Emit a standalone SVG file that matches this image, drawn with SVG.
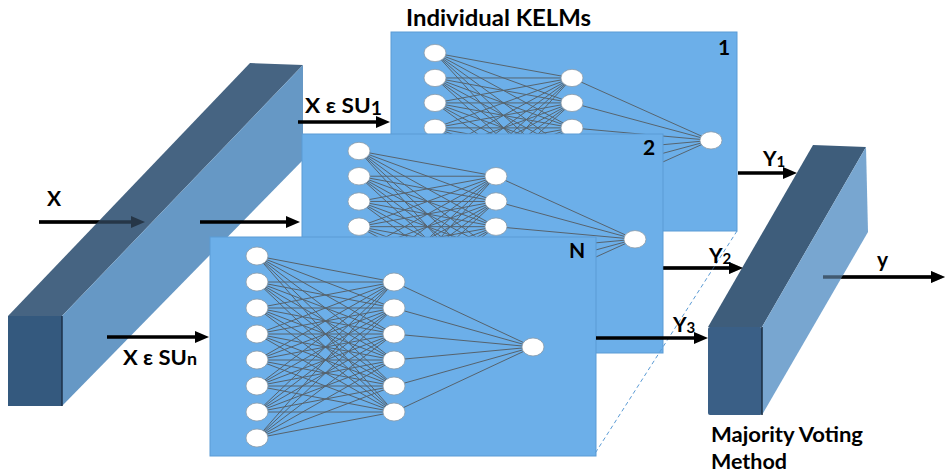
<svg xmlns="http://www.w3.org/2000/svg" xmlns:xlink="http://www.w3.org/1999/xlink" width="948" height="476" viewBox="0 0 948 476">
<style>
.lbl{font-family:Lato,"Open Sans","Liberation Sans",sans-serif;font-weight:bold;fill:#000}
.panel{fill:#6cafe9;stroke:#5b9bd5;stroke-width:1}
.arr{stroke:#000;stroke-width:3.5;fill:none;marker-end:url(#ah)}
.nl{stroke:#56626c;stroke-width:1;fill:none}
.nd{fill:#fff;stroke:#8a9aa8;stroke-width:0.8}
</style>
<defs>
<marker id="ah" viewBox="0 0 14 12" refX="4" refY="6" markerWidth="14" markerHeight="12" markerUnits="userSpaceOnUse" orient="auto">
<path d="M0 0L14 6L0 12z" fill="#000"/>
</marker>
<g id="net">
<path class="nl" d="M0 0L137 26M0 0L137 52M0 0L137 78M0 0L137 104M0 0L137 130M0 0L137 156
M0 26L137 26M0 26L137 52M0 26L137 78M0 26L137 104M0 26L137 130M0 26L137 156
M0 52L137 26M0 52L137 52M0 52L137 78M0 52L137 104M0 52L137 130M0 52L137 156
M0 78L137 26M0 78L137 52M0 78L137 78M0 78L137 104M0 78L137 130M0 78L137 156
M0 104L137 26M0 104L137 52M0 104L137 78M0 104L137 104M0 104L137 130M0 104L137 156
M0 130L137 26M0 130L137 52M0 130L137 78M0 130L137 104M0 130L137 130M0 130L137 156
M0 156L137 26M0 156L137 52M0 156L137 78M0 156L137 104M0 156L137 130M0 156L137 156
M0 182L137 26M0 182L137 52M0 182L137 78M0 182L137 104M0 182L137 130M0 182L137 156
M137 26L276 91M137 52L276 91M137 78L276 91M137 104L276 91M137 130L276 91M137 156L276 91"/>
<ellipse class="nd" cx="0" cy="0" rx="11" ry="9"/>
<ellipse class="nd" cx="0" cy="26" rx="11" ry="9"/>
<ellipse class="nd" cx="0" cy="52" rx="11" ry="9"/>
<ellipse class="nd" cx="0" cy="78" rx="11" ry="9"/>
<ellipse class="nd" cx="0" cy="104" rx="11" ry="9"/>
<ellipse class="nd" cx="0" cy="130" rx="11" ry="9"/>
<ellipse class="nd" cx="0" cy="156" rx="11" ry="9"/>
<ellipse class="nd" cx="0" cy="182" rx="11" ry="9"/>
<ellipse class="nd" cx="137" cy="26" rx="11" ry="9"/>
<ellipse class="nd" cx="137" cy="52" rx="11" ry="9"/>
<ellipse class="nd" cx="137" cy="78" rx="11" ry="9"/>
<ellipse class="nd" cx="137" cy="104" rx="11" ry="9"/>
<ellipse class="nd" cx="137" cy="130" rx="11" ry="9"/>
<ellipse class="nd" cx="137" cy="156" rx="11" ry="9"/>
<ellipse class="nd" cx="276" cy="91" rx="11" ry="9"/>
</g>
</defs>

<rect width="948" height="476" fill="#fff"/>

<g id="conn-under">
<line class="arr" x1="39" y1="222" x2="135" y2="222"/>
<line class="arr" x1="823" y1="277" x2="935" y2="277"/>
<line class="arr" x1="663" y1="268" x2="733" y2="268"/>
</g>

<g id="input-bar">
<polygon points="8,316 250,63 303,65 62,316" fill="#466482"/>
<polygon points="62,316 303,65 303,160 62,406" fill="#6698c5"/>
<rect x="8" y="316" width="54" height="90" fill="#34597e"/>
<line x1="62" y1="316" x2="62" y2="406" stroke="#1c3148" stroke-width="1.5"/>
</g>

<g id="kelm-1">
<rect class="panel" x="391" y="32" width="346" height="199"/>
<use xlink:href="#net" transform="translate(435 53) scale(1 0.96)"/>
<text class="lbl" x="718" y="55" font-size="21">1</text>
</g>

<g id="kelm-2">
<rect class="panel" x="302" y="134" width="361" height="219"/>
<use xlink:href="#net" transform="translate(359 151) scale(1 0.97)"/>
<text class="lbl" x="643" y="155" font-size="21">2</text>
</g>

<g id="kelm-n">
<rect class="panel" x="210" y="237" width="386" height="219"/>
<use xlink:href="#net" transform="translate(257 256)"/>
<text class="lbl" x="569" y="258" font-size="21">N</text>
</g>

<line x1="737" y1="231" x2="594" y2="455" stroke="#5b9bd5" stroke-width="1" stroke-dasharray="4 3"/>

<g id="vote-bar">
<polygon points="708,327 813,145 866,147 762,327" fill="#3e5d7b"/>
<polygon points="762,327 866,147 868,232 762,415" fill="#78a6d0"/>
<rect x="708" y="327" width="54" height="88" rx="2" fill="#3a5f86"/>
<line x1="762" y1="327" x2="762" y2="415" stroke="#1a2c40" stroke-width="1.5"/>
</g>

<g id="connectors">
<g opacity="0.45">
<line class="arr" x1="39" y1="222" x2="135" y2="222"/>
<line class="arr" x1="823" y1="277" x2="935" y2="277"/>
<line class="arr" x1="663" y1="268" x2="733" y2="268"/>
</g>
<line class="arr" x1="200" y1="222" x2="290" y2="222"/>
<line class="arr" x1="107" y1="337" x2="199" y2="337"/>
<line class="arr" x1="298" y1="122" x2="380" y2="122"/>
<line class="arr" x1="738" y1="173" x2="787" y2="173"/>
<line class="arr" x1="596" y1="338" x2="698" y2="338"/>
</g>

<g id="labels">
<text class="lbl" x="406" y="26" font-size="23" textLength="185" lengthAdjust="spacingAndGlyphs">Individual KELMs</text>
<text class="lbl" x="47" y="206" font-size="21">X</text>
<text class="lbl" x="305" y="113" font-size="21" textLength="77" lengthAdjust="spacingAndGlyphs">X ε SU<tspan font-size="18" dy="2">1</tspan></text>
<text class="lbl" x="123" y="365" font-size="21" textLength="74" lengthAdjust="spacingAndGlyphs">X ε SU<tspan font-size="17">n</tspan></text>
<text class="lbl" x="763" y="166" font-size="21">Y<tspan font-size="15" dy="1">1</tspan></text>
<text class="lbl" x="709" y="263" font-size="21">Y<tspan font-size="15" dy="1">2</tspan></text>
<text class="lbl" x="673" y="332" font-size="21">Y<tspan font-size="15" dy="1">3</tspan></text>
<text class="lbl" x="877" y="267" font-size="21">y</text>
<text class="lbl" x="711" y="442" font-size="21" textLength="152" lengthAdjust="spacingAndGlyphs">Majority Voting</text>
<text class="lbl" x="711" y="469" font-size="21" textLength="76" lengthAdjust="spacingAndGlyphs">Method</text>
</g>
</svg>
